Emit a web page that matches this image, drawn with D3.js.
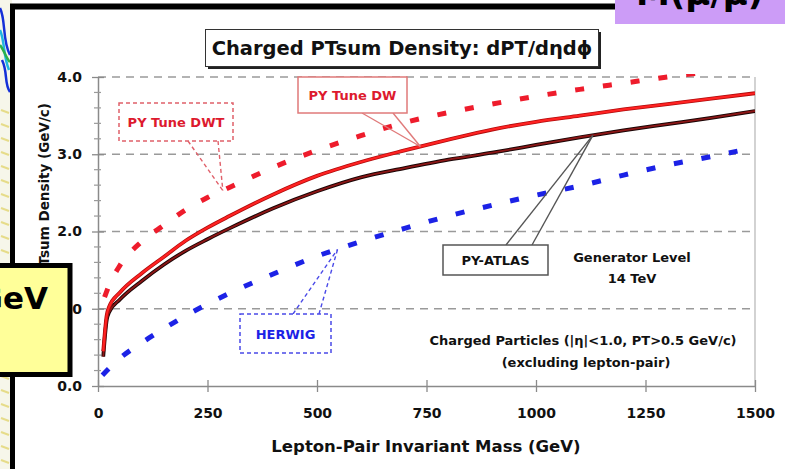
<!DOCTYPE html>
<html>
<head>
<meta charset="utf-8">
<script src="https://cdn.jsdelivr.net/npm/d3@7"></script>
<style>
  html, body { margin: 0; padding: 0; background: #fff; }
  svg { display: block; }
  text { font-family: "DejaVu Sans", Verdana, sans-serif; font-weight: bold; }
</style>
</head>
<body>
<svg id="chart" width="785" height="469"></svg>
<script>
// Generator-level charged PTsum density versus lepton-pair invariant mass (14 TeV)
const xTicks = [0, 250, 500, 750, 1000, 1250, 1500];
const yTicks = [0, 1, 2, 3, 4];

// PYTHIA Tune DWT
const massDWT = [15, 25, 50, 100, 150, 200, 250, 300, 400, 500, 600, 700, 800, 900, 1000, 1100, 1200, 1300, 1400, 1500];
const valDWT  = [1.15, 1.30, 1.56, 1.87, 2.08, 2.28, 2.44, 2.57, 2.83, 3.05, 3.24, 3.41, 3.54, 3.65, 3.75, 3.84, 3.92, 4.00, 4.07, 4.14];

// PYTHIA Tune DW
const massDW = [12, 20, 25, 50, 100, 150, 200, 250, 300, 400, 500, 600, 700, 800, 900, 1000, 1100, 1200, 1300, 1400, 1500];
const valDW  = [0.45, 0.92, 1.02, 1.21, 1.46, 1.67, 1.88, 2.05, 2.20, 2.48, 2.72, 2.90, 3.05, 3.19, 3.32, 3.42, 3.50, 3.58, 3.65, 3.72, 3.79];

// PYTHIA ATLAS tune
const massATLAS = [12, 20, 25, 50, 100, 150, 200, 250, 300, 400, 500, 600, 700, 800, 900, 1000, 1100, 1200, 1300, 1400, 1500];
const valATLAS  = [0.38, 0.86, 0.95, 1.12, 1.36, 1.57, 1.75, 1.90, 2.04, 2.30, 2.52, 2.70, 2.82, 2.93, 3.02, 3.12, 3.22, 3.31, 3.39, 3.47, 3.56];

// HERWIG
const massHERWIG = [10, 50, 100, 150, 200, 250, 300, 400, 500, 600, 700, 800, 900, 1000, 1100, 1200, 1300, 1400, 1460];
const valHERWIG  = [0.14, 0.36, 0.56, 0.74, 0.91, 1.06, 1.20, 1.45, 1.68, 1.87, 2.04, 2.20, 2.34, 2.47, 2.59, 2.73, 2.86, 2.97, 3.04];

const svg = d3.select("#chart");

// ---- slide backdrop at the far left ----
svg.append("rect").attr("x", 0).attr("y", 0).attr("width", 12).attr("height", 469).attr("fill", "#f6f6ea");
const deco = svg.append("g");
[["#1530d8", "M0,8 C6,20 2,40 10,55"], ["#1fb5e0", "M0,30 C5,42 3,55 9,70"], ["#1530d8", "M2,60 C8,72 4,84 10,92"], ["#2bb04a", "M0,45 C4,50 6,58 10,62"]]
  .forEach(([c, d]) => deco.append("path").attr("d", d).attr("fill", "none").attr("stroke", c).attr("stroke-width", 2.5));
d3.range(110, 469, 14).forEach(yy => deco.append("line")
  .attr("x1", 1).attr("x2", 9).attr("y1", yy).attr("y2", yy + 3)
  .attr("stroke", "#e6dc8a").attr("stroke-width", 2));

// ---- frame of the embedded plot ----
svg.append("rect").attr("x", 14).attr("y", 8).attr("width", 771).attr("height", 461).attr("fill", "#fff");
svg.append("line").attr("x1", 10).attr("x2", 620).attr("y1", 6.5).attr("y2", 6.5).attr("stroke", "#000").attr("stroke-width", 6);
svg.append("line").attr("x1", 12.5).attr("x2", 12.5).attr("y1", 4).attr("y2", 469).attr("stroke", "#000").attr("stroke-width", 5);

// ---- scales ----
const x = d3.scaleLinear().domain([0, 1500]).range([98, 755]);
const y = d3.scaleLinear().domain([0, 4]).range([386, 77]);

// grid lines (dashed)
svg.append("g").selectAll("line").data(yTicks.filter(t => t > 0)).join("line")
  .attr("x1", x(0)).attr("x2", x(1500))
  .attr("y1", d => y(d)).attr("y2", d => y(d))
  .attr("stroke", "#9a9a9a").attr("stroke-width", 1.5).attr("stroke-dasharray", "8,6");
// right border
svg.append("line").attr("x1", x(1500)).attr("x2", x(1500)).attr("y1", y(4)).attr("y2", y(0))
  .attr("stroke", "#b5b5b5").attr("stroke-width", 1.2);

// y axis with minor ticks every 0.2
const yAxis = d3.axisLeft(y).tickValues(yTicks).tickFormat(d3.format(".1f")).tickSize(0).tickPadding(16);
const gy = svg.append("g").attr("transform", `translate(${x(0)},0)`).call(yAxis);
gy.select(".domain").attr("stroke", "#8a8a8a").attr("stroke-width", 1.5);
gy.selectAll("text").attr("font-size", 14).attr("fill", "#111").attr("font-family", "DejaVu Sans").attr("font-weight", "bold");
gy.selectAll(".tick").append("line").attr("x1", -6).attr("x2", 6).attr("stroke", "#8a8a8a").attr("stroke-width", 1.3);
svg.append("g").selectAll("line").data(d3.range(0, 20).filter(i => i % 5 !== 0).map(i => i * 0.2)).join("line")
  .attr("x1", x(0) - 4).attr("x2", x(0) + 3)
  .attr("y1", d => y(d)).attr("y2", d => y(d))
  .attr("stroke", "#9a9a9a").attr("stroke-width", 1.2);

// x axis
const xAxis = d3.axisBottom(x).tickValues(xTicks).tickFormat(d3.format("d")).tickSize(0).tickPadding(22);
const gx = svg.append("g").attr("transform", `translate(0,${y(0)})`).call(xAxis);
gx.select(".domain").attr("stroke", "#8a8a8a").attr("stroke-width", 1.5);
gx.selectAll("text").attr("font-size", 14).attr("fill", "#111").attr("font-family", "DejaVu Sans").attr("font-weight", "bold");
gx.selectAll(".tick").append("line").attr("y1", -6).attr("y2", 6).attr("stroke", "#8a8a8a").attr("stroke-width", 1.3);

// axis titles
svg.append("text").attr("x", 426).attr("y", 452).attr("text-anchor", "middle")
  .attr("font-size", 16.5).attr("fill", "#111").text("Lepton-Pair Invariant Mass  (GeV)");
svg.append("text").attr("transform", "translate(49,103) rotate(-90)").attr("text-anchor", "end")
  .attr("font-size", 13.5).attr("fill", "#111").text("Charged PTsum Density (GeV/c)");

// ---- curves ----
svg.append("defs").append("clipPath").attr("id", "plotclip")
  .append("rect").attr("x", x(0)).attr("y", y(4) - 3).attr("width", x(1500) - x(0)).attr("height", y(0) - y(4) + 3);

const line = d3.line().x(d => x(d[0])).y(d => y(d[1])).curve(d3.curveMonotoneX);
const pts = (ms, vs) => ms.map((m, i) => [m, vs[i]]);
const curves = svg.append("g").attr("clip-path", "url(#plotclip)");

curves.append("path").attr("d", line(pts(massHERWIG, valHERWIG)))
  .attr("fill", "none").attr("stroke", "#1c22e6").attr("stroke-width", 5).attr("stroke-dasharray", "9,19");
curves.append("path").attr("d", line(pts(massDWT, valDWT)))
  .attr("fill", "none").attr("stroke", "#ee1c2c").attr("stroke-width", 5).attr("stroke-dasharray", "9,19");
curves.append("path").attr("d", line(pts(massATLAS, valATLAS)))
  .attr("fill", "none").attr("stroke", "#1a0505").attr("stroke-width", 3.8);
curves.append("path").attr("d", line(pts(massATLAS, valATLAS)))
  .attr("fill", "none").attr("stroke", "#8c1616").attr("stroke-width", 1.8);
curves.append("path").attr("d", line(pts(massDW, valDW)))
  .attr("fill", "none").attr("stroke", "#b00c0c").attr("stroke-width", 3.8);
curves.append("path").attr("d", line(pts(massDW, valDW)))
  .attr("fill", "none").attr("stroke", "#ff2222").attr("stroke-width", 2.2);

// ---- callout labels ----
function valueAt(ms, vs, m) {
  const i = Math.max(1, Math.min(ms.length - 1, d3.bisectRight(ms, m)));
  const t = (m - ms[i - 1]) / (ms[i] - ms[i - 1]);
  return vs[i - 1] + t * (vs[i] - vs[i - 1]);
}
function callout(opt) {
  const g = svg.append("g");
  const tip = [x(opt.tipMass), y(valueAt(opt.ms, opt.vs, opt.tipMass))];
  opt.bases.forEach(b => g.append("line")
    .attr("x1", b[0]).attr("y1", b[1]).attr("x2", tip[0]).attr("y2", tip[1])
    .attr("stroke", opt.stroke).attr("stroke-width", 1.4)
    .attr("stroke-dasharray", opt.dash || null));
  g.append("rect").attr("x", opt.box[0]).attr("y", opt.box[1]).attr("width", opt.box[2]).attr("height", opt.box[3])
    .attr("fill", "#fff").attr("stroke", opt.stroke).attr("stroke-width", 1.5)
    .attr("stroke-dasharray", opt.dash || null);
  g.append("text").attr("x", opt.box[0] + opt.box[2] / 2).attr("y", opt.box[1] + opt.box[3] / 2 + 5)
    .attr("text-anchor", "middle").attr("font-size", 13).attr("fill", opt.color).text(opt.label);
}
callout({ label: "PY Tune DWT", ms: massDWT, vs: valDWT, tipMass: 285, bases: [[188, 141], [218, 141]],
  box: [119, 103, 114, 38], stroke: "#e0606a", color: "#dd1a2e", dash: "4,3" });
callout({ label: "PY Tune DW", ms: massDW, vs: valDW, tipMass: 736, bases: [[362, 113], [393, 113]],
  box: [298, 77, 109, 36], stroke: "#e07a7a", color: "#dd1a2e" });
callout({ label: "PY-ATLAS", ms: massATLAS, vs: valATLAS, tipMass: 1130, bases: [[506, 245], [532, 245]],
  box: [443, 245, 105, 30], stroke: "#555", color: "#111" });
callout({ label: "HERWIG", ms: massHERWIG, vs: valHERWIG, tipMass: 547, bases: [[293, 314], [319, 314]],
  box: [240, 314, 91, 39], stroke: "#4a4ae8", color: "#1c22e6", dash: "4,3" });

// ---- notes ----
const note = (tx, ty, s) => svg.append("text").attr("x", tx).attr("y", ty).attr("text-anchor", "middle")
  .attr("font-size", 13).attr("fill", "#111").text(s);
note(632, 262, "Generator Level");
note(632, 283, "14 TeV");
note(583, 345, "Charged Particles (|η|<1.0, PT>0.5 GeV/c)");
note(586, 367, "(excluding lepton-pair)");

// ---- title box ----
svg.append("rect").attr("x", 208).attr("y", 32).attr("width", 393).attr("height", 37).attr("fill", "#222");
svg.append("rect").attr("x", 205.5).attr("y", 29.5).attr("width", 393).attr("height", 37)
  .attr("fill", "#fff").attr("stroke", "#333").attr("stroke-width", 1);
svg.append("text").attr("x", 402).attr("y", 55).attr("text-anchor", "middle")
  .attr("font-size", 19.5).attr("fill", "#111").text("Charged PTsum Density: dPT/dηdϕ");

// ---- slide overlays ----
svg.append("rect").attr("x", 615).attr("y", 0).attr("width", 170).attr("height", 24).attr("fill", "#cc9cf7");
svg.append("text").attr("x", 636).attr("y", 5).attr("font-family", "Liberation Sans, Arial, sans-serif")
  .attr("font-size", 34).attr("fill", "#000").text("M(μ/μ)");

svg.append("rect").attr("x", -5).attr("y", 265.5).attr("width", 75).attr("height", 109)
  .attr("fill", "#ffff99").attr("stroke", "#000").attr("stroke-width", 5);
svg.append("text").attr("x", 48).attr("y", 309).attr("text-anchor", "end")
  .attr("font-family", "Liberation Sans, Arial, sans-serif").attr("font-size", 31).attr("fill", "#000").text("GeV");
</script>
</body>
</html>
